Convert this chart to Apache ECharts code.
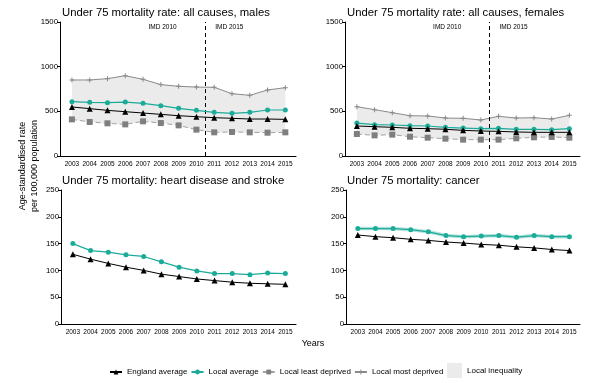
<!DOCTYPE html>
<html>
<head>
<meta charset="utf-8">
<script src="https://cdn.jsdelivr.net/npm/echarts@6/dist/echarts.min.js"></script>
<style>html,body{margin:0;padding:0;background:#fff;}#c{width:602px;height:383px;}</style>
</head>
<body>
<div id="c"></div>
<script>
// ---- data ----
const years = [2003,2004,2005,2006,2007,2008,2009,2010,2011,2012,2013,2014,2015];
const panelTitles = [
  'Under 75 mortality rate: all causes, males',
  'Under 75 mortality rate: all causes, females',
  'Under 75 mortality: heart disease and stroke',
  'Under 75 mortality: cancer'
];
// males, all causes
const malesEngland = [549,530,511,496,481,466,451,440,429,422,414,414,410];
const malesLocal   = [608,601,597,604,590,563,534,511,489,478,489,515,515];
const malesLeast   = [410,381,366,354,388,369,343,295,265,269,265,261,265];
const malesMost    = [851,851,866,899,858,799,780,772,769,698,679,739,765];
// females, all causes
const femalesEngland = [336,328,321,310,306,299,287,280,276,269,265,265,265];
const femalesLocal   = [369,351,347,340,336,321,313,306,310,299,299,295,306];
const femalesLeast   = [246,231,239,216,205,194,183,183,183,198,209,213,205];
const femalesMost    = [552,519,485,451,448,425,422,403,444,425,429,414,455];
// heart disease and stroke
const heartEngland = [130,121,113,106,100,93,88.5,84,81,78,76,75,74];
const heartLocal   = [150,137,134,129,126,116,106,99,94,94,92,95,94];
// cancer
const cancerEngland = [166,163,161,158,156,153,151,148.5,147,144,142,139,137];
const cancerLocal   = [178,178,178,176,172,165,163,164,165,162,165,163,163];
// axis ticks
const allCauseTicks = [0,500,1000,1500];
const diseaseTicks = [0,50,100,150,200,250];
// annotations
const imdBoundaryYear = 2010.5;
const imdLabels = ['IMD 2010','IMD 2015'];
const imdLabelYears = [2008.1, 2011.85];
const imdLabelValue = 1442;

// ---- styling ----
const FONT = 'Liberation Sans, Arial, sans-serif';
const C_ENG = '#000000', C_LOC = '#1aab99', C_LEAST = '#7f7f7f', C_LEAST_LINE = '#a3a3a3', C_MOST = '#8a8a8a', C_BAND = '#ebebeb';
const plusPath = 'path://M4,0h2v4h4v2h-4v4h-2v-4h-4v-2h4z';

const pairs = arr => arr.map((v, i) => [years[i], v]);

const grids = [
  {left: 60, top: 22, width: 236, height: 134},
  {left: 345, top: 22, width: 235, height: 134},
  {left: 61, top: 190, width: 235, height: 134},
  {left: 346, top: 190, width: 234, height: 134}
];

const xAxes = grids.map((g, i) => ({
  type: 'value', gridIndex: i, min: 2002.33, max: 2015.6, z: 10,
  axisLine: {show: true, onZero: false, lineStyle: {color: '#000', width: 1}},
  axisTick: {show: false},
  splitLine: {show: false},
  axisLabel: {customValues: years, fontSize: 6.5, margin: 5, color: '#000',
    fontFamily: 'Liberation Sans Narrow, Arial Narrow, Liberation Sans, sans-serif',
    formatter: v => String(v)}
}));

const yAxes = grids.map((g, i) => {
  const ticks = i < 2 ? allCauseTicks : diseaseTicks;
  return {
    type: 'value', gridIndex: i, min: ticks[0], max: ticks[ticks.length - 1],
    interval: ticks[1] - ticks[0], z: 10,
    axisLine: {show: true, lineStyle: {color: '#000', width: 1}},
    axisTick: {show: true, length: 3, lineStyle: {color: '#000'}},
    splitLine: {show: false},
    axisLabel: {fontSize: 7.8, margin: 2, color: '#000', fontFamily: FONT, formatter: v => String(v)}
  };
});

function englandSeries(idx, data) {
  return {name: 'England average', type: 'line', xAxisIndex: idx, yAxisIndex: idx, data: pairs(data),
    symbol: 'triangle', symbolSize: 6, itemStyle: {color: C_ENG}, lineStyle: {color: C_ENG, width: 1}, z: 6, animation: false};
}
function localSeries(idx, data) {
  return {name: 'Local average', type: 'line', xAxisIndex: idx, yAxisIndex: idx, data: pairs(data),
    symbol: 'circle', symbolSize: 5, itemStyle: {color: C_LOC}, lineStyle: {color: C_LOC, width: 1.2}, z: 5, animation: false};
}
function bandSeries(idx, least, most) {
  return {
    name: 'Local inequality', type: 'custom', xAxisIndex: idx, yAxisIndex: idx, silent: true, z: 1, animation: false,
    itemStyle: {color: C_BAND},
    data: years.map((y, i) => [y, least[i], most[i]]),
    encode: {x: 0, y: [1, 2]},
    renderItem: function (params, api) {
      if (params.dataIndex !== 0) return null;
      const top = years.map((y, i) => api.coord([y, most[i]]));
      const bottom = years.map((y, i) => api.coord([y, least[i]])).reverse();
      return {type: 'polygon', shape: {points: top.concat(bottom)}, style: {fill: C_BAND, stroke: null}};
    }
  };
}
function allCauseSeries(idx, eng, loc, least, most) {
  return [
    bandSeries(idx, least, most),
    {name: 'Local least deprived', type: 'line', xAxisIndex: idx, yAxisIndex: idx, data: pairs(least),
      symbol: 'rect', symbolSize: 6, itemStyle: {color: C_LEAST}, lineStyle: {color: C_LEAST_LINE, width: 1, type: [5, 3]}, z: 3, animation: false},
    {name: 'Local most deprived', type: 'line', xAxisIndex: idx, yAxisIndex: idx, data: pairs(most),
      symbol: plusPath, symbolSize: 5, itemStyle: {color: C_MOST}, lineStyle: {color: C_MOST, width: 1}, z: 3, animation: false},
    localSeries(idx, loc),
    Object.assign(englandSeries(idx, eng), {
      markLine: {symbol: ['none', 'none'], silent: true, animation: false, label: {show: false},
        lineStyle: {color: '#000', width: 1, type: [4, 3]}, data: [{xAxis: imdBoundaryYear}]},
      markPoint: {symbol: 'circle', symbolSize: 0, silent: true, animation: false,
        label: {show: true, position: 'inside', fontSize: 6.5, color: '#000', fontFamily: FONT, formatter: p => p.name},
        data: imdLabels.map((t, k) => ({name: t, coord: [imdLabelYears[k], imdLabelValue]}))}
    })
  ];
}

const series = [].concat(
  allCauseSeries(0, malesEngland, malesLocal, malesLeast, malesMost),
  allCauseSeries(1, femalesEngland, femalesLocal, femalesLeast, femalesMost),
  [localSeries(2, heartLocal), englandSeries(2, heartEngland)],
  [{name: '_cancerShade', type: 'line', xAxisIndex: 3, yAxisIndex: 3, data: pairs(cancerLocal), symbol: 'none',
     lineStyle: {color: '#b4e2da', width: 3.5}, silent: true, z: 2, animation: false},
   localSeries(3, cancerLocal), englandSeries(3, cancerEngland)]
);

const titleTops = [7, 7, 175, 175];
const titleLefts = [62, 347, 62, 347];

const option = {
  animation: false,
  backgroundColor: '#fff',
  textStyle: {fontFamily: FONT},
  title: panelTitles.map((t, i) => ({text: t, left: titleLefts[i], top: titleTops[i], padding: 0,
    textStyle: {fontSize: 11.3, fontWeight: 'normal', color: '#000', fontFamily: FONT}})),
  grid: grids,
  xAxis: xAxes,
  yAxis: yAxes,
  legend: [
    {data: ['England average', 'Local average', 'Local least deprived', 'Local most deprived'],
      left: 109, top: 368, itemWidth: 12, itemHeight: 6, itemGap: 3, padding: 0, selectedMode: false,
      textStyle: {fontSize: 8, color: '#000', fontFamily: FONT}},
    {data: [{name: 'Local inequality', icon: 'rect'}], left: 447, top: 363, itemWidth: 15, itemHeight: 15, padding: 0,
      selectedMode: false, textStyle: {fontSize: 8, color: '#000', fontFamily: FONT}}
  ],
  graphic: [
    {type: 'text', x: 29, y: 166, rotation: Math.PI / 2,
      style: {text: 'Age-standardised rate\nper 100,000 population', align: 'center', verticalAlign: 'middle',
        fontSize: 9, lineHeight: 12, fill: '#000', fontFamily: FONT}},
    {type: 'text', x: 313, y: 344,
      style: {text: 'Years', align: 'center', verticalAlign: 'middle', fontSize: 9, fill: '#000', fontFamily: FONT}}
  ],
  series: series
};

const chart = echarts.init(document.getElementById('c'), null, {renderer: 'canvas'});
chart.setOption(option);
</script>
</body>
</html>
